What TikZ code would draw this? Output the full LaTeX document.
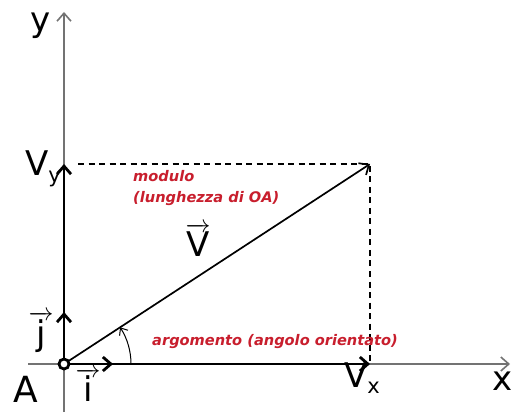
\documentclass[tikz,border=0pt]{standalone}
\usepackage{fontspec}
\setmainfont{DejaVu Sans}
\usetikzlibrary{arrows.meta,positioning}

\definecolor{labelred}{RGB}{200,30,45}
\newcommand{\lowidx}[1]{\raisebox{-0.35ex}{\fontsize{21}{21}\selectfont #1}}

\begin{document}
\begin{tikzpicture}[
      x=1pt, y=1pt,
      >={Straight Barb[length=8pt, width=14pt]},
      every node/.style={inner sep=0pt},
      axis/.style={->, line width=1.6pt, black!55},
      comp/.style={->, line width=2.8pt, black},
      vec/.style={->, line width=1.7pt, black},
      proj/.style={line width=1.6pt, dash pattern=on 6pt off 4.5pt},
      big/.style={font=\fontsize{34}{38}\selectfont},
      note/.style={font=\fontsize{14.6}{21}\selectfont\bfseries\itshape,
            text=labelred, align=left}
]
\useasboundingbox (0,0) rectangle (518,412);

\coordinate (O) at (64,48);
\coordinate (P) at (370,248);
\coordinate (vx) at (P |- O);
\coordinate (vy) at (O |- P);
\coordinate (ytop) at (64,400);
\coordinate (ybot) at (64,0);
\coordinate (xleft) at (28,48);
\coordinate (xright) at (510,48);
\coordinate (itip) at (113,48);
\coordinate (jtip) at (64,100);
\coordinate (argstart) at (131,48);

% axes
\draw[axis] (ybot) -- (ytop);
\draw[axis] (xleft) -- (xright);

% components and unit vectors
\draw[comp] (O) -- (vy);
\draw[comp] (O) -- (vx);
\draw[comp] (O) -- (jtip);
\draw[comp] (O) -- (itip);

% projections
\draw[proj] ([xshift=14pt]vy) -- (P) -- (vx);

% vector
\draw[vec] (O) -- (P);

% angle
\draw[->, line width=1pt, >={Straight Barb[length=6pt, width=10pt]}]
      (argstart) arc[start angle=0, end angle=33.2, radius=67];

\node[circle, draw, line width=2.8pt, fill=white, minimum size=10pt] (A) at (O) {};

% labels
\node[big] (ylab) at (41,386) {y};
\node[big] (xlab) at (503,31) {x};
\node[big, font=\fontsize{36}{38}\selectfont] (alab) at (26,23) {A};
\node[big] (vylab) at (43,243) {V\lowidx{y}};
\node[big] (vxlab) at (362,34) {V\lowidx{x}};
\node[big] (jlab) at (41,80) {$\overrightarrow{\mbox{j}}$};
\node[big] (ilab) at (88,27) {$\overrightarrow{\mbox{i}}$};
\node[big] (vlab) at (198,172) {$\overrightarrow{\mbox{V}}$};

\node[note, anchor=north west] (modulo) at (133,242) {modulo\\(lunghezza di OA)};
\node[note, anchor=base west] (arg) at (152,67) {argomento (angolo orientato)};
\end{tikzpicture}
\end{document}
